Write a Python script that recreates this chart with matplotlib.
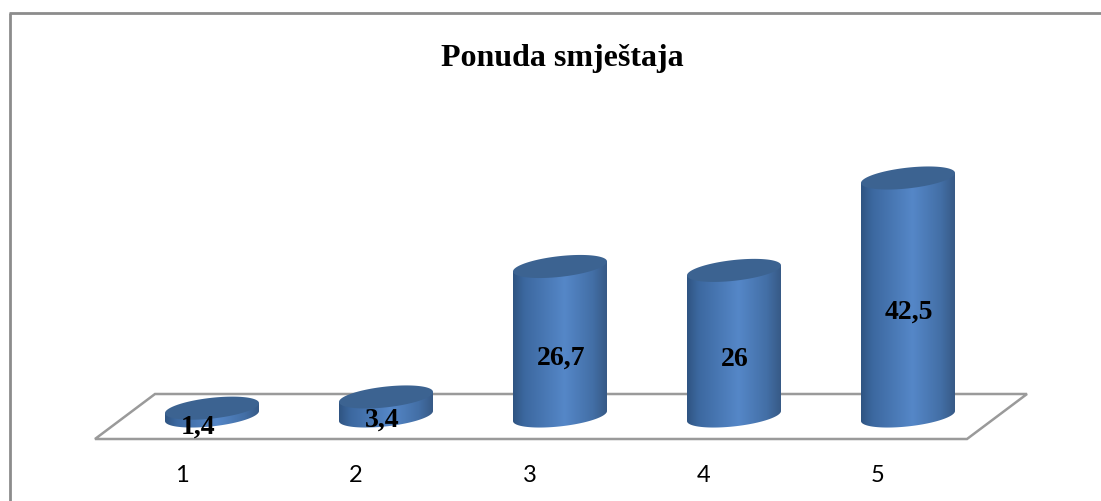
import numpy as np
import matplotlib
matplotlib.use("Agg")
import matplotlib.pyplot as plt
from matplotlib.colors import LinearSegmentedColormap
from matplotlib.patches import PathPatch, Polygon
from matplotlib.path import Path

title = "Ponuda smještaja"
categories = [1, 2, 3, 4, 5]
values = [1.4, 3.4, 26.7, 26, 42.5]
value_labels = ["1,4", "3,4", "26,7", "26", "42,5"]

W, H = 1101, 501
fig = plt.figure(figsize=(W / 100, H / 100), dpi=100, facecolor="white")
ax = fig.add_axes([0, 0, 1, 1])
ax.axis("off")

# scale: pixels per category / per value unit, and baseline pixel
PX_CAT, PX_VAL, X0, Y0 = 174.0, 5.6, 212.0, 421.0
xlim = (1 - X0 / PX_CAT, 1 + (W - X0) / PX_CAT)
ylim = (-(H - Y0) / PX_VAL, Y0 / PX_VAL)
def px_x(p): return xlim[0] + p / PX_CAT
def px_y(p): return (Y0 - p) / PX_VAL

# outer frame
frame = "#8c8c8c"
ax.plot([px_x(10), px_x(10)], [px_y(H), px_y(13)], color=frame, lw=2, solid_capstyle="butt")
ax.plot([px_x(9), px_x(W)], [px_y(13), px_y(13)], color=frame, lw=2, solid_capstyle="butt")

# floor
floor = [(95, 439), (155, 394), (1027, 394), (967, 439)]
ax.add_patch(Polygon([(px_x(a), px_y(b)) for a, b in floor], closed=True, fill=False,
                     ec="#9a9a9a", lw=1.8, zorder=1))

cmap = LinearSegmentedColormap.from_list("cyl", [
    (0.0, "#2f5482"), (0.12, "#3c689f"), (0.55, "#5587c8"), (0.85, "#436fa6"), (1.0, "#375a86")])
shade = np.linspace(0, 1, 256)[None, :]

half_w = 47 / PX_CAT          # half width in category units
tilt = 5 / PX_VAL             # left side lower, right side higher
minor = 10.4 / PX_VAL
t = np.linspace(0, 2 * np.pi, 181)

for cat, val in zip(categories, values):
    ex = cat + half_w * np.cos(t)
    def ell(level):
        return level + minor * np.sin(t) + tilt * np.cos(t)
    base_y = ell(tilt)         # left edge of the base rests on the baseline
    top_y = ell(val + tilt)    # left edge of the top sits at the value
    idx = np.where(t >= np.pi - 1e-9)[0]
    bx, by = ex[idx], base_y[idx]
    verts = [(cat - half_w, val)] + list(zip(bx, by)) + [(cat + half_w, val + 2 * tilt)]
    body = PathPatch(Path(verts + [verts[0]], closed=False), fc="none", ec="none",
                     transform=ax.transData)
    ax.add_patch(body)
    im = ax.imshow(shade, cmap=cmap, aspect="auto", zorder=2, interpolation="bilinear",
                   extent=(cat - half_w, cat + half_w, -minor * 2, val + 2 * tilt + minor))
    im.set_clip_path(body)
    ax.fill(ex, top_y, color="#3c6391", lw=0, zorder=3)

label_pos = [(198, 427), (382, 420), (561, 358), (735, 360), (909, 312)]
for (px, py), lab in zip(label_pos, value_labels):
    ax.text(px_x(px), px_y(py), lab, ha="center", va="center", family="Liberation Serif",
            fontweight="bold", fontsize=20, color="black", zorder=5)

tick_px = [182, 356, 530, 704, 878]
for cat, p in zip(categories, tick_px):
    ax.text(px_x(p), px_y(476), str(cat), ha="center", va="center", family="Lato",
            fontsize=17, color="black")

ax.text(px_x(562), px_y(58), title, ha="center", va="center", family="Liberation Serif",
        fontweight="bold", fontsize=23, color="black")

ax.set_xlim(xlim)
ax.set_ylim(ylim)
fig.savefig("out.png", dpi=100, facecolor="white")
